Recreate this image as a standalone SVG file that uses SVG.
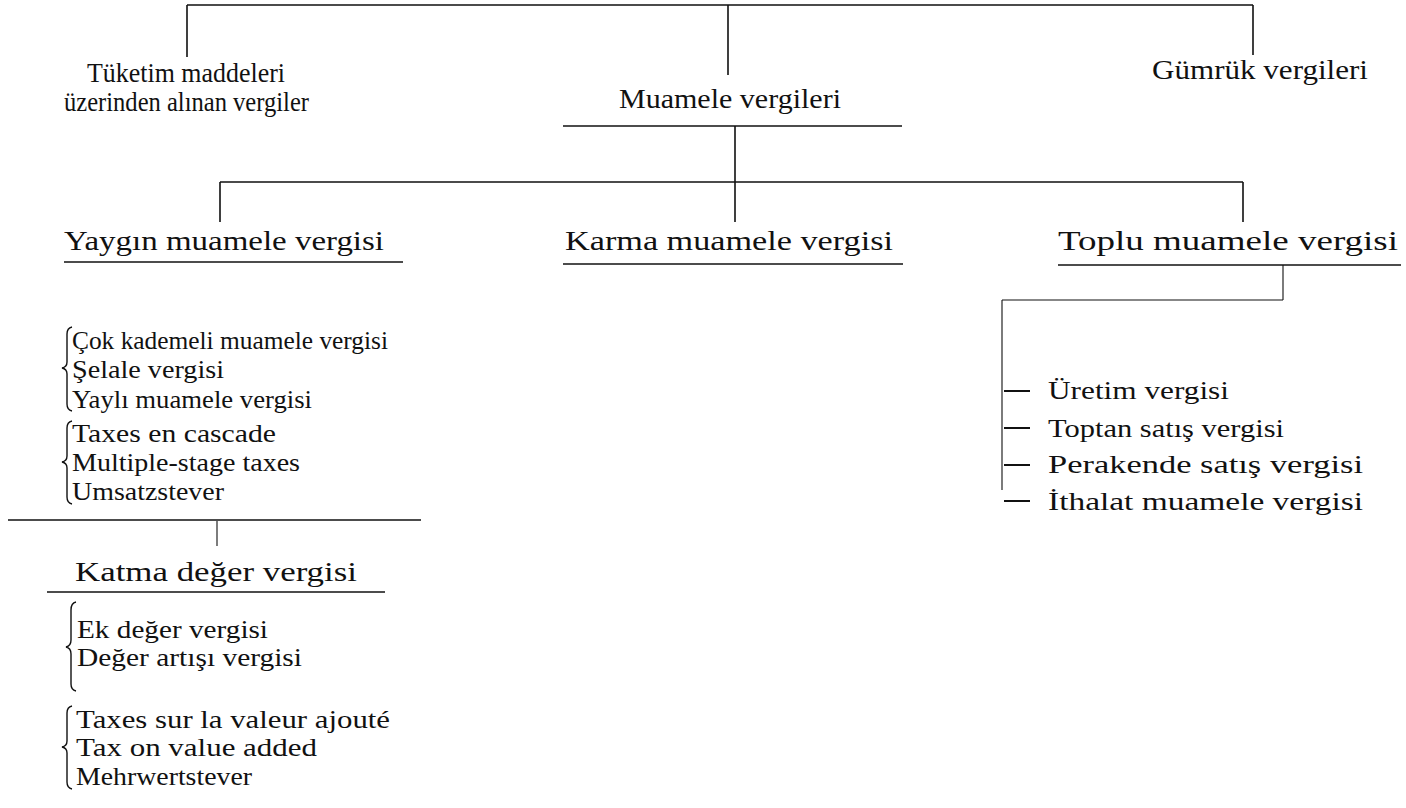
<svg xmlns="http://www.w3.org/2000/svg" width="1406" height="808" viewBox="0 0 1406 808">
<style>
text{font-family:"Liberation Serif","Times New Roman",serif;font-size:26px;fill:#111}
.h{font-size:27px}
.ln{stroke:#111;stroke-width:1.6;fill:none}
.thin{stroke:#111;stroke-width:1.1;fill:none}
.tick{stroke:#111;stroke-width:2;fill:none}
.br{stroke:#111;stroke-width:1.4;fill:none}
</style>
<rect width="1406" height="808" fill="#fff"/>
<g id="connectors">
<path class="ln" d="M187,5 H1253 M187,5 V57 M728,5 V75 M1253,5 V55"/>
<path class="ln" d="M735,126 V222 M220,182 H1243 M220,182 V222 M1243,182 V222"/>
<path class="thin" d="M1283,265 V300 M1002,300 H1283 M1002,300 V490"/>
<path class="tick" d="M1004,391 H1030 M1004,428 H1030 M1004,465 H1030 M1004,501 H1030"/>
<path class="ln" d="M8,520 H421"/>
<path class="thin" d="M217,521 V546"/>
</g>
<g id="n-tuketim">
<text class="h" x="87" y="82" textLength="198" lengthAdjust="spacingAndGlyphs">Tüketim maddeleri</text>
<text class="h" x="64" y="111" textLength="245" lengthAdjust="spacingAndGlyphs">üzerinden alınan vergiler</text>
</g>
<g id="n-muamele">
<text class="h" x="619" y="108" textLength="222" lengthAdjust="spacingAndGlyphs">Muamele vergileri</text>
<path class="ln" d="M563,126 H902"/>
</g>
<g id="n-gumruk">
<text class="h" x="1152" y="79" textLength="216" lengthAdjust="spacingAndGlyphs">Gümrük vergileri</text>
</g>
<g id="n-yaygin">
<text class="h" x="64" y="250" textLength="320" lengthAdjust="spacingAndGlyphs">Yaygın muamele vergisi</text>
<path class="ln" d="M64,262 H403"/>
</g>
<g id="n-karma">
<text class="h" x="565" y="250" textLength="328" lengthAdjust="spacingAndGlyphs">Karma muamele vergisi</text>
<path class="ln" d="M563,264 H903"/>
</g>
<g id="n-toplu">
<text class="h" x="1058" y="250" textLength="340" lengthAdjust="spacingAndGlyphs">Toplu muamele vergisi</text>
<path class="ln" d="M1058,265 H1401"/>
</g>
<g id="n-yaygin-names">
<path class="br" d="M72,327 Q67,328 67,334 V362 Q67,367 62,368 Q67,369 67,374 V404 Q67,410 72,411"/>
<text x="72" y="349" textLength="316" lengthAdjust="spacingAndGlyphs">Çok kademeli muamele vergisi</text>
<text x="72" y="378" textLength="152" lengthAdjust="spacingAndGlyphs">Şelale vergisi</text>
<text x="72" y="408" textLength="240" lengthAdjust="spacingAndGlyphs">Yaylı muamele vergisi</text>
<path class="br" d="M72,421 Q67,422 67,428 V456 Q67,461 62,462 Q67,463 67,468 V497 Q67,503 72,504"/>
<text x="72" y="442" textLength="204" lengthAdjust="spacingAndGlyphs">Taxes en cascade</text>
<text x="72" y="471" textLength="228" lengthAdjust="spacingAndGlyphs">Multiple-stage taxes</text>
<text x="72" y="500" textLength="152" lengthAdjust="spacingAndGlyphs">Umsatzstever</text>
</g>
<g id="n-katma">
<text class="h" x="75" y="581" textLength="282" lengthAdjust="spacingAndGlyphs">Katma değer vergisi</text>
<path class="ln" d="M47,592 H385"/>
</g>
<g id="n-katma-names">
<path class="br" d="M76,602 Q71,603 71,610 V640 Q71,646 66,647 Q71,648 71,654 V684 Q71,690 76,691"/>
<text x="77" y="638" textLength="191" lengthAdjust="spacingAndGlyphs">Ek değer vergisi</text>
<text x="77" y="666" textLength="225" lengthAdjust="spacingAndGlyphs">Değer artışı vergisi</text>
<path class="br" d="M72,706 Q67,707 67,713 V741 Q67,746 62,747 Q67,748 67,753 V782 Q67,788 72,789"/>
<text x="76" y="728" textLength="314" lengthAdjust="spacingAndGlyphs">Taxes sur la valeur ajouté</text>
<text x="76" y="756" textLength="241" lengthAdjust="spacingAndGlyphs">Tax on value added</text>
<text x="76" y="785" textLength="176" lengthAdjust="spacingAndGlyphs">Mehrwertstever</text>
</g>
<g id="n-toplu-items">
<text x="1048" y="399" textLength="181" lengthAdjust="spacingAndGlyphs">Üretim vergisi</text>
<text x="1048" y="437" textLength="236" lengthAdjust="spacingAndGlyphs">Toptan satış vergisi</text>
<text x="1048" y="473" textLength="315" lengthAdjust="spacingAndGlyphs">Perakende satış vergisi</text>
<text x="1048" y="510" textLength="315" lengthAdjust="spacingAndGlyphs">İthalat muamele vergisi</text>
</g>
</svg>
